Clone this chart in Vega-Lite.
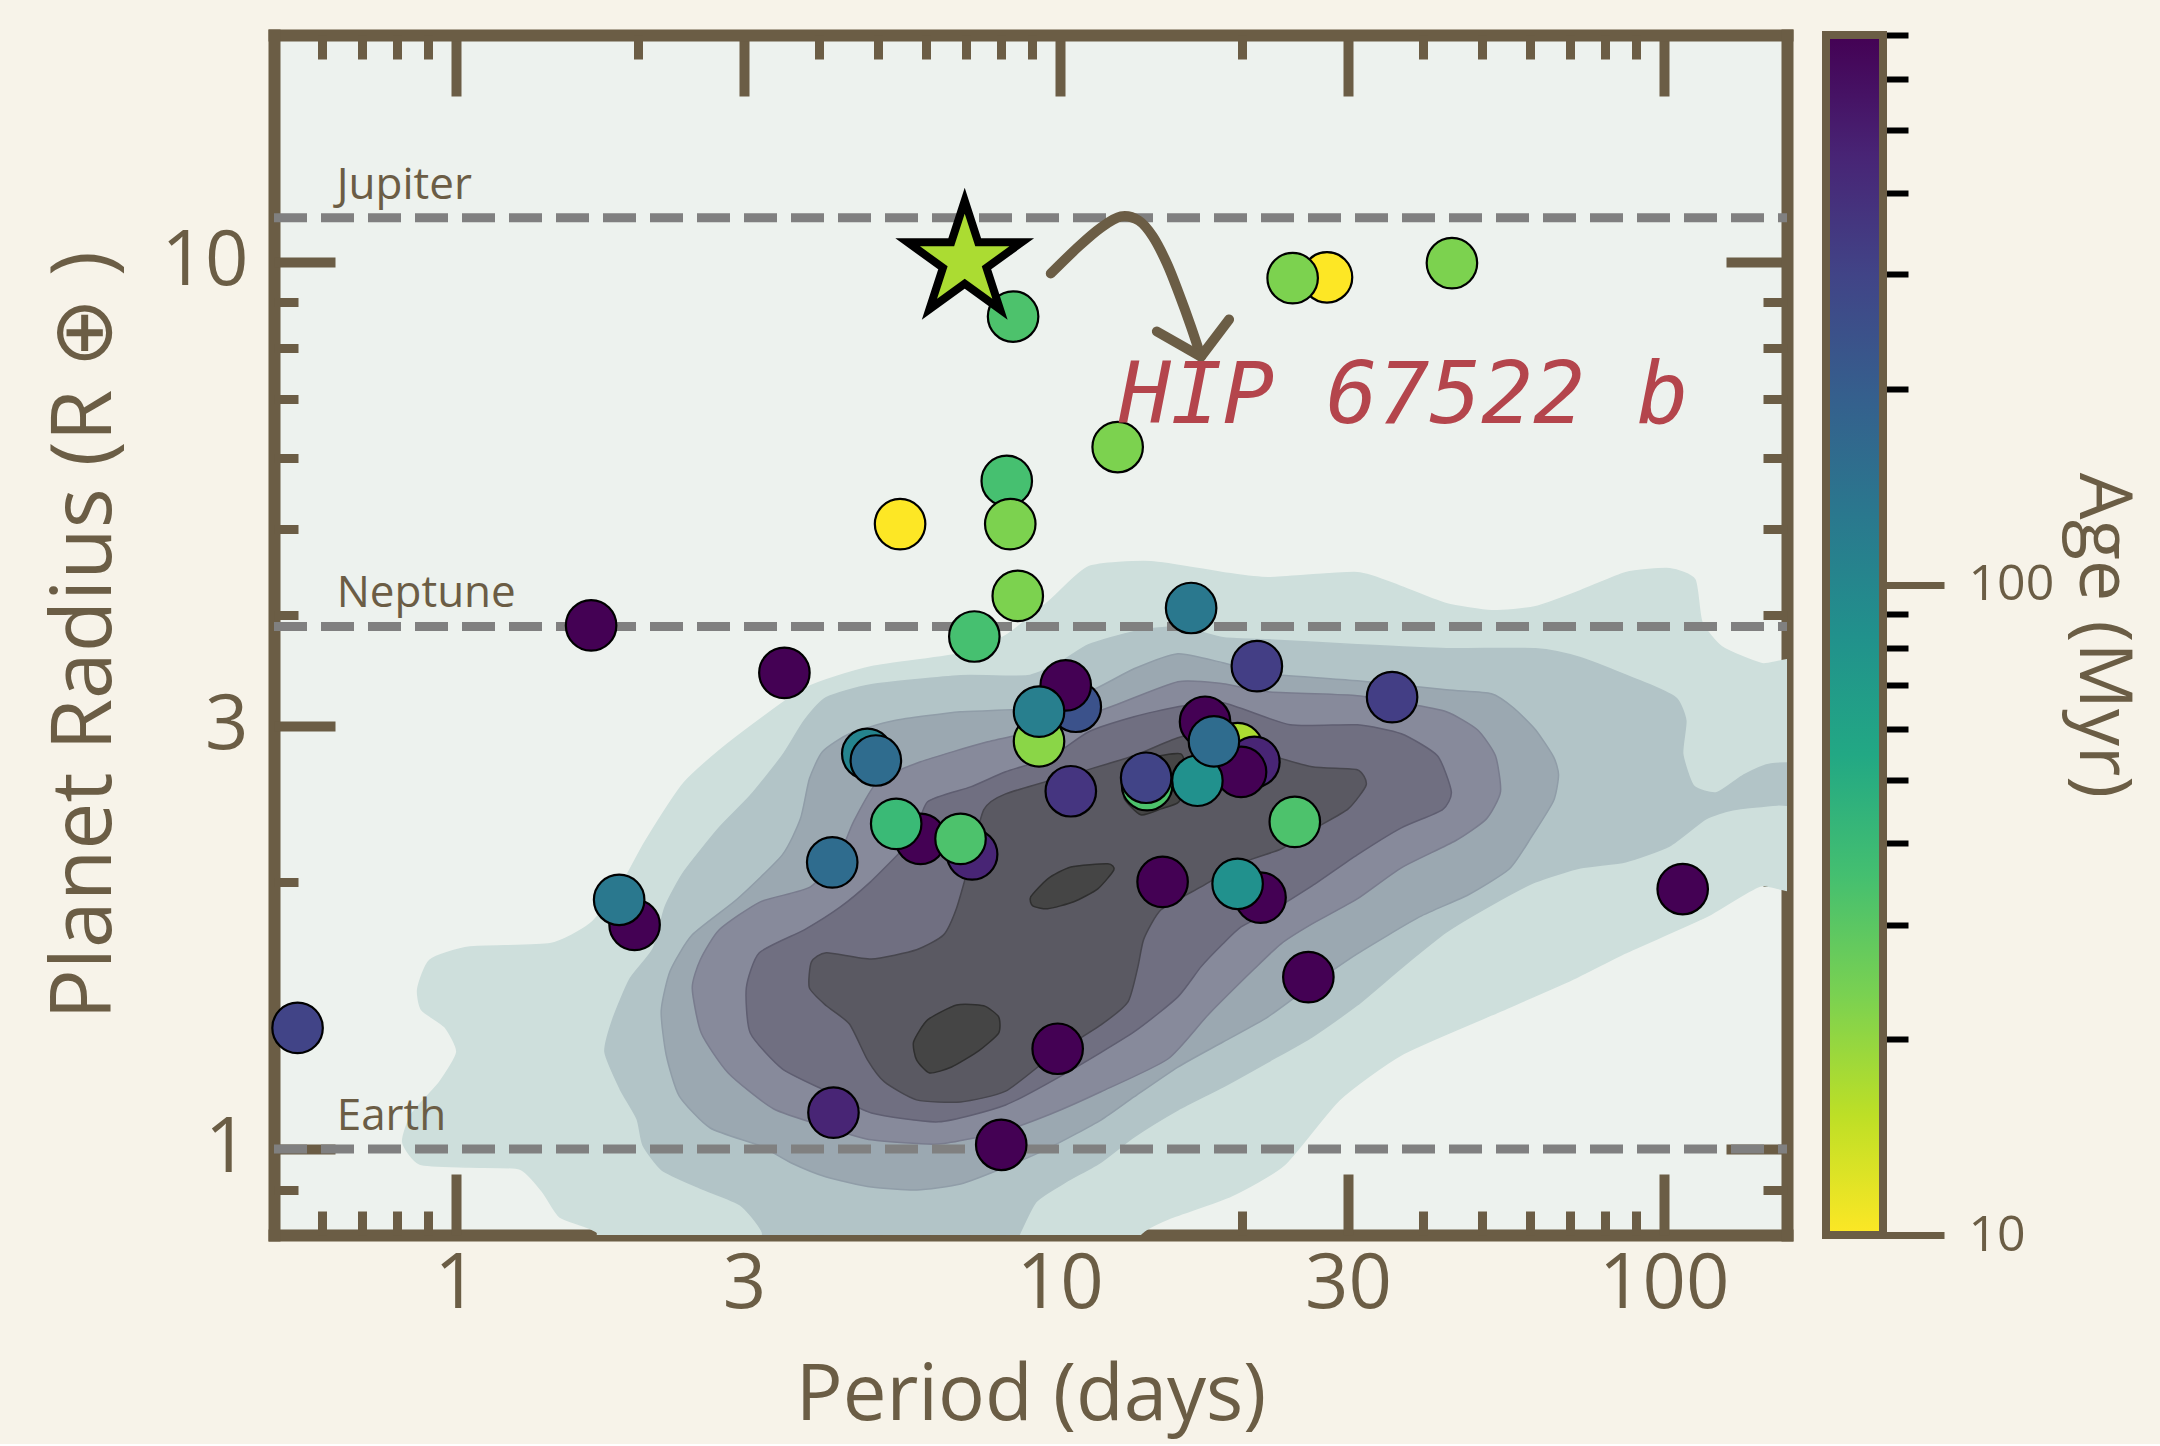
{
  "$schema": "https://vega.github.io/schema/vega-lite/v6.json",
  "background": "#f7f3e9",
  "padding": {"left": 43, "top": 30, "right": 21, "bottom": 9},
  "config": {
    "view": {"stroke": null},
    "axis": {"zindex": 1, "grid": false, "labelFont": "Open Sans", "titleFont": "Open Sans", "labelColor": "#6b5d45", "titleColor": "#6b5d45", "tickColor": "#6b5d45", "domainColor": "#6b5d45", "titleFontWeight": "normal", "labelOverlap": false, "labelFlush": false},
    "text": {"font": "Open Sans"}
  },
  "datasets": {
    "contours": [
      {"id":"c1","level":1,"i":1,"P":0.865,"R":1.515},{"id":"c1","level":1,"i":2,"P":0.906,"R":1.633},{"id":"c1","level":1,"i":3,"P":1.055,"R":1.689},{"id":"c1","level":1,"i":4,"P":1.432,"R":1.703},{"id":"c1","level":1,"i":5,"P":1.668,"R":1.793},{"id":"c1","level":1,"i":6,"P":1.871,"R":1.974},{"id":"c1","level":1,"i":7,"P":2.058,"R":2.219},{"id":"c1","level":1,"i":8,"P":2.388,"R":2.586},{"id":"c1","level":1,"i":9,"P":2.847,"R":2.876},{"id":"c1","level":1,"i":10,"P":3.776,"R":3.301},{"id":"c1","level":1,"i":11,"P":4.877,"R":3.494},{"id":"c1","level":1,"i":12,"P":6.852,"R":3.615},{"id":"c1","level":1,"i":13,"P":8.136,"R":3.788},{"id":"c1","level":1,"i":14,"P":9.663,"R":4.158},{"id":"c1","level":1,"i":15,"P":11.17,"R":4.53},{"id":"c1","level":1,"i":16,"P":14.16,"R":4.59},{"id":"c1","level":1,"i":17,"P":18.63,"R":4.461},{"id":"c1","level":1,"i":18,"P":22.13,"R":4.403},{"id":"c1","level":1,"i":19,"P":31.08,"R":4.461},{"id":"c1","level":1,"i":20,"P":36.77,"R":4.302},{"id":"c1","level":1,"i":21,"P":43.66,"R":4.115},{"id":"c1","level":1,"i":22,"P":51.86,"R":4.041},{"id":"c1","level":1,"i":23,"P":61.33,"R":4.083},{"id":"c1","level":1,"i":24,"P":72.84,"R":4.257},{"id":"c1","level":1,"i":25,"P":86.5,"R":4.461},{"id":"c1","level":1,"i":26,"P":102.3,"R":4.507},{"id":"c1","level":1,"i":27,"P":112.6,"R":4.38},{"id":"c1","level":1,"i":28,"P":115.6,"R":3.927},{"id":"c1","level":1,"i":29,"P":124.8,"R":3.68},{"id":"c1","level":1,"i":30,"P":145.4,"R":3.522},{"id":"c1","level":1,"i":31,"P":176.0,"R":3.467},{"id":"c1","level":1,"i":32,"P":176.0,"R":2.0},{"id":"c1","level":1,"i":33,"P":144.3,"R":1.979},{"id":"c1","level":1,"i":34,"P":117.4,"R":1.826},{"id":"c1","level":1,"i":35,"P":86.5,"R":1.664},{"id":"c1","level":1,"i":36,"P":70.37,"R":1.551},{"id":"c1","level":1,"i":37,"P":51.86,"R":1.416},{"id":"c1","level":1,"i":38,"P":36.77,"R":1.277},{"id":"c1","level":1,"i":39,"P":29.02,"R":1.136},{"id":"c1","level":1,"i":40,"P":23.52,"R":0.9594},{"id":"c1","level":1,"i":41,"P":19.21,"R":0.885},{"id":"c1","level":1,"i":42,"P":15.1,"R":0.834},{"id":"c1","level":1,"i":43,"P":13.62,"R":0.802},{"id":"c1","level":1,"i":44,"P":12.62,"R":0.7266},{"id":"c1","level":1,"i":45,"P":1.871,"R":0.7266},{"id":"c1","level":1,"i":46,"P":1.713,"R":0.806},{"id":"c1","level":1,"i":47,"P":1.488,"R":0.838},{"id":"c1","level":1,"i":48,"P":1.394,"R":0.894},{"id":"c1","level":1,"i":49,"P":1.277,"R":0.9495},{"id":"c1","level":1,"i":50,"P":1.055,"R":0.9544},{"id":"c1","level":1,"i":51,"P":0.8716,"R":0.9618},{"id":"c1","level":1,"i":52,"P":0.8169,"R":1.018},{"id":"c1","level":1,"i":53,"P":0.8454,"R":1.095},{"id":"c1","level":1,"i":54,"P":0.9408,"R":1.19},{"id":"c1","level":1,"i":55,"P":1.004,"R":1.286},{"id":"c1","level":1,"i":56,"P":0.9589,"R":1.373},{"id":"c1","level":1,"i":57,"P":0.878,"R":1.435},
      {"id":"c2","level":2,"i":1,"P":1.766,"R":1.287},{"id":"c2","level":2,"i":2,"P":1.821,"R":1.402},{"id":"c2","level":2,"i":3,"P":1.943,"R":1.555},{"id":"c2","level":2,"i":4,"P":2.122,"R":1.681},{"id":"c2","level":2,"i":5,"P":2.221,"R":1.874},{"id":"c2","level":2,"i":6,"P":2.388,"R":2.053},{"id":"c2","level":2,"i":7,"P":2.73,"R":2.301},{"id":"c2","level":2,"i":8,"P":3.073,"R":2.5},{"id":"c2","level":2,"i":9,"P":3.472,"R":2.774},{"id":"c2","level":2,"i":10,"P":3.776,"R":3.038},{"id":"c2","level":2,"i":11,"P":4.107,"R":3.225},{"id":"c2","level":2,"i":12,"P":4.877,"R":3.335},{"id":"c2","level":2,"i":13,"P":6.852,"R":3.414},{"id":"c2","level":2,"i":14,"P":8.849,"R":3.414},{"id":"c2","level":2,"i":15,"P":10.04,"R":3.54},{"id":"c2","level":2,"i":16,"P":11.17,"R":3.7},{"id":"c2","level":2,"i":17,"P":13.27,"R":3.827},{"id":"c2","level":2,"i":18,"P":15.69,"R":3.877},{"id":"c2","level":2,"i":19,"P":18.63,"R":3.768},{"id":"c2","level":2,"i":20,"P":22.13,"R":3.748},{"id":"c2","level":2,"i":21,"P":31.08,"R":3.7},{"id":"c2","level":2,"i":22,"P":43.66,"R":3.662},{"id":"c2","level":2,"i":23,"P":61.33,"R":3.662},{"id":"c2","level":2,"i":24,"P":72.84,"R":3.577},{"id":"c2","level":2,"i":25,"P":94.8,"R":3.335},{"id":"c2","level":2,"i":26,"P":105.1,"R":3.216},{"id":"c2","level":2,"i":27,"P":108.8,"R":3.038},{"id":"c2","level":2,"i":28,"P":107.5,"R":2.788},{"id":"c2","level":2,"i":29,"P":112.1,"R":2.565},{"id":"c2","level":2,"i":30,"P":122.4,"R":2.52},{"id":"c2","level":2,"i":31,"P":135.8,"R":2.64},{"id":"c2","level":2,"i":32,"P":150.5,"R":2.716},{"id":"c2","level":2,"i":33,"P":176.0,"R":2.703},{"id":"c2","level":2,"i":34,"P":176.0,"R":2.448},{"id":"c2","level":2,"i":35,"P":154.0,"R":2.442},{"id":"c2","level":2,"i":36,"P":130.2,"R":2.411},{"id":"c2","level":2,"i":37,"P":117.4,"R":2.355},{"id":"c2","level":2,"i":38,"P":102.3,"R":2.196},{"id":"c2","level":2,"i":39,"P":86.5,"R":2.107},{"id":"c2","level":2,"i":40,"P":72.84,"R":2.074},{"id":"c2","level":2,"i":41,"P":61.33,"R":2.0},{"id":"c2","level":2,"i":42,"P":51.86,"R":1.884},{"id":"c2","level":2,"i":43,"P":43.66,"R":1.756},{"id":"c2","level":2,"i":44,"P":36.77,"R":1.6},{"id":"c2","level":2,"i":45,"P":31.08,"R":1.453},{"id":"c2","level":2,"i":46,"P":26.17,"R":1.338},{"id":"c2","level":2,"i":47,"P":22.13,"R":1.254},{"id":"c2","level":2,"i":48,"P":18.63,"R":1.175},{"id":"c2","level":2,"i":49,"P":15.69,"R":1.107},{"id":"c2","level":2,"i":50,"P":13.27,"R":1.032},{"id":"c2","level":2,"i":51,"P":11.7,"R":0.9668},{"id":"c2","level":2,"i":52,"P":10.23,"R":0.918},{"id":"c2","level":2,"i":53,"P":9.125,"R":0.8716},{"id":"c2","level":2,"i":54,"P":8.453,"R":0.7855},{"id":"c2","level":2,"i":55,"P":7.98,"R":0.7266},{"id":"c2","level":2,"i":56,"P":3.317,"R":0.7266},{"id":"c2","level":2,"i":57,"P":3.218,"R":0.806},{"id":"c2","level":2,"i":58,"P":2.958,"R":0.865},{"id":"c2","level":2,"i":59,"P":2.539,"R":0.9036},{"id":"c2","level":2,"i":60,"P":2.196,"R":0.9469},{"id":"c2","level":2,"i":61,"P":2.042,"R":1.01},{"id":"c2","level":2,"i":62,"P":1.996,"R":1.081},{"id":"c2","level":2,"i":63,"P":1.871,"R":1.169},
      {"id":"c3","level":3,"i":1,"P":2.188,"R":1.431},{"id":"c3","level":3,"i":2,"P":2.264,"R":1.587},{"id":"c3","level":3,"i":3,"P":2.463,"R":1.743},{"id":"c3","level":3,"i":4,"P":2.924,"R":1.913},{"id":"c3","level":3,"i":5,"P":3.472,"R":2.145},{"id":"c3","level":3,"i":6,"P":3.72,"R":2.355},{"id":"c3","level":3,"i":7,"P":3.85,"R":2.613},{"id":"c3","level":3,"i":8,"P":4.046,"R":2.803},{"id":"c3","level":3,"i":9,"P":4.485,"R":2.937},{"id":"c3","level":3,"i":10,"P":5.305,"R":3.038},{"id":"c3","level":3,"i":11,"P":6.852,"R":3.11},{"id":"c3","level":3,"i":12,"P":8.849,"R":3.134},{"id":"c3","level":3,"i":13,"P":11.17,"R":3.275},{"id":"c3","level":3,"i":14,"P":13.27,"R":3.476},{"id":"c3","level":3,"i":15,"P":15.69,"R":3.615},{"id":"c3","level":3,"i":16,"P":18.63,"R":3.531},{"id":"c3","level":3,"i":17,"P":22.13,"R":3.432},{"id":"c3","level":3,"i":18,"P":31.08,"R":3.37},{"id":"c3","level":3,"i":19,"P":43.66,"R":3.292},{"id":"c3","level":3,"i":20,"P":51.86,"R":3.258},{"id":"c3","level":3,"i":21,"P":56.38,"R":3.142},{"id":"c3","level":3,"i":22,"P":61.33,"R":2.968},{"id":"c3","level":3,"i":23,"P":65.71,"R":2.766},{"id":"c3","level":3,"i":24,"P":66.97,"R":2.64},{"id":"c3","level":3,"i":25,"P":65.71,"R":2.468},{"id":"c3","level":3,"i":26,"P":60.4,"R":2.247},{"id":"c3","level":3,"i":27,"P":55.55,"R":2.069},{"id":"c3","level":3,"i":28,"P":47.5,"R":1.934},{"id":"c3","level":3,"i":29,"P":39.4,"R":1.826},{"id":"c3","level":3,"i":30,"P":31.08,"R":1.659},{"id":"c3","level":3,"i":31,"P":26.17,"R":1.531},{"id":"c3","level":3,"i":32,"P":22.13,"R":1.409},{"id":"c3","level":3,"i":33,"P":18.63,"R":1.32},{"id":"c3","level":3,"i":34,"P":15.69,"R":1.237},{"id":"c3","level":3,"i":35,"P":13.27,"R":1.1445},{"id":"c3","level":3,"i":36,"P":11.7,"R":1.078},{"id":"c3","level":3,"i":37,"P":9.663,"R":1.005},{"id":"c3","level":3,"i":38,"P":8.136,"R":0.9544},{"id":"c3","level":3,"i":39,"P":6.852,"R":0.9131},{"id":"c3","level":3,"i":40,"P":5.793,"R":0.899},{"id":"c3","level":3,"i":41,"P":4.877,"R":0.9061},{"id":"c3","level":3,"i":42,"P":4.107,"R":0.9299},{"id":"c3","level":3,"i":43,"P":3.594,"R":0.9643},{"id":"c3","level":3,"i":44,"P":3.193,"R":1.0078},{"id":"c3","level":3,"i":45,"P":2.638,"R":1.056},{"id":"c3","level":3,"i":46,"P":2.343,"R":1.148},{"id":"c3","level":3,"i":47,"P":2.23,"R":1.277},
      {"id":"c4","level":4,"i":1,"P":2.463,"R":1.519},{"id":"c4","level":4,"i":2,"P":2.539,"R":1.633},{"id":"c4","level":4,"i":3,"P":2.73,"R":1.766},{"id":"c4","level":4,"i":4,"P":3.193,"R":1.899},{"id":"c4","level":4,"i":5,"P":3.865,"R":1.974},{"id":"c4","level":4,"i":6,"P":4.333,"R":2.161},{"id":"c4","level":4,"i":7,"P":4.554,"R":2.337},{"id":"c4","level":4,"i":8,"P":4.991,"R":2.593},{"id":"c4","level":4,"i":9,"P":5.882,"R":2.731},{"id":"c4","level":4,"i":10,"P":7.596,"R":2.876},{"id":"c4","level":4,"i":11,"P":9.772,"R":2.991},{"id":"c4","level":4,"i":12,"P":12.15,"R":3.15},{"id":"c4","level":4,"i":13,"P":15.69,"R":3.362},{"id":"c4","level":4,"i":14,"P":18.63,"R":3.344},{"id":"c4","level":4,"i":15,"P":22.13,"R":3.275},{"id":"c4","level":4,"i":16,"P":31.08,"R":3.242},{"id":"c4","level":4,"i":17,"P":36.77,"R":3.183},{"id":"c4","level":4,"i":18,"P":43.66,"R":3.11},{"id":"c4","level":4,"i":19,"P":49.15,"R":2.968},{"id":"c4","level":4,"i":20,"P":52.65,"R":2.774},{"id":"c4","level":4,"i":21,"P":53.67,"R":2.526},{"id":"c4","level":4,"i":22,"P":50.87,"R":2.355},{"id":"c4","level":4,"i":23,"P":45.2,"R":2.225},{"id":"c4","level":4,"i":24,"P":36.77,"R":2.074},{"id":"c4","level":4,"i":25,"P":31.08,"R":1.913},{"id":"c4","level":4,"i":26,"P":26.17,"R":1.793},{"id":"c4","level":4,"i":27,"P":23.25,"R":1.703},{"id":"c4","level":4,"i":28,"P":20.98,"R":1.595},{"id":"c4","level":4,"i":29,"P":17.6,"R":1.416},{"id":"c4","level":4,"i":30,"P":15.1,"R":1.263},{"id":"c4","level":4,"i":31,"P":11.7,"R":1.16},{"id":"c4","level":4,"i":32,"P":9.663,"R":1.095},{"id":"c4","level":4,"i":33,"P":7.98,"R":1.045},{"id":"c4","level":4,"i":34,"P":6.3,"R":1.013},{"id":"c4","level":4,"i":35,"P":4.877,"R":1.024},{"id":"c4","level":4,"i":36,"P":4.107,"R":1.059},{"id":"c4","level":4,"i":37,"P":3.356,"R":1.11},{"id":"c4","level":4,"i":38,"P":2.825,"R":1.218},{"id":"c4","level":4,"i":39,"P":2.549,"R":1.351},
      {"id":"c5","level":5,"i":1,"P":3.027,"R":1.519},{"id":"c5","level":5,"i":2,"P":3.181,"R":1.664},{"id":"c5","level":5,"i":3,"P":3.776,"R":1.766},{"id":"c5","level":5,"i":4,"P":4.333,"R":1.874},{"id":"c5","level":5,"i":5,"P":4.86,"R":2.0},{"id":"c5","level":5,"i":6,"P":5.448,"R":2.161},{"id":"c5","level":5,"i":7,"P":5.727,"R":2.236},{"id":"c5","level":5,"i":8,"P":6.041,"R":2.462},{"id":"c5","level":5,"i":9,"P":7.12,"R":2.559},{"id":"c5","level":5,"i":10,"P":8.136,"R":2.661},{"id":"c5","level":5,"i":11,"P":9.663,"R":2.766},{"id":"c5","level":5,"i":12,"P":11.17,"R":2.952},{"id":"c5","level":5,"i":13,"P":13.27,"R":3.069},{"id":"c5","level":5,"i":14,"P":15.69,"R":3.15},{"id":"c5","level":5,"i":15,"P":18.63,"R":3.183},{"id":"c5","level":5,"i":16,"P":24.06,"R":3.006},{"id":"c5","level":5,"i":17,"P":31.08,"R":3.006},{"id":"c5","level":5,"i":18,"P":36.77,"R":2.937},{"id":"c5","level":5,"i":19,"P":42.2,"R":2.774},{"id":"c5","level":5,"i":20,"P":44.5,"R":2.526},{"id":"c5","level":5,"i":21,"P":43.0,"R":2.411},{"id":"c5","level":5,"i":22,"P":36.77,"R":2.301},{"id":"c5","level":5,"i":23,"P":31.08,"R":2.145},{"id":"c5","level":5,"i":24,"P":26.17,"R":1.979},{"id":"c5","level":5,"i":25,"P":22.13,"R":1.845},{"id":"c5","level":5,"i":26,"P":19.96,"R":1.779},{"id":"c5","level":5,"i":27,"P":18.63,"R":1.703},{"id":"c5","level":5,"i":28,"P":17.13,"R":1.604},{"id":"c5","level":5,"i":29,"P":15.69,"R":1.484},{"id":"c5","level":5,"i":30,"P":13.27,"R":1.355},{"id":"c5","level":5,"i":31,"P":10.31,"R":1.221},{"id":"c5","level":5,"i":32,"P":8.136,"R":1.121},{"id":"c5","level":5,"i":33,"P":6.3,"R":1.073},{"id":"c5","level":5,"i":34,"P":4.877,"R":1.098},{"id":"c5","level":5,"i":35,"P":4.107,"R":1.162},{"id":"c5","level":5,"i":36,"P":3.472,"R":1.231},{"id":"c5","level":5,"i":37,"P":3.073,"R":1.351},
      {"id":"c6","level":6,"i":1,"P":3.85,"R":1.519},{"id":"c6","level":6,"i":2,"P":3.88,"R":1.625},{"id":"c6","level":6,"i":3,"P":4.107,"R":1.664},{"id":"c6","level":6,"i":4,"P":4.877,"R":1.637},{"id":"c6","level":6,"i":5,"P":5.793,"R":1.677},{"id":"c6","level":6,"i":6,"P":6.421,"R":1.743},{"id":"c6","level":6,"i":7,"P":6.749,"R":1.869},{"id":"c6","level":6,"i":8,"P":7.09,"R":2.101},{"id":"c6","level":6,"i":9,"P":7.482,"R":2.411},{"id":"c6","level":6,"i":10,"P":8.136,"R":2.513},{"id":"c6","level":6,"i":11,"P":10.83,"R":2.661},{"id":"c6","level":6,"i":12,"P":13.27,"R":2.774},{"id":"c6","level":6,"i":13,"P":15.69,"R":2.907},{"id":"c6","level":6,"i":14,"P":18.63,"R":2.975},{"id":"c6","level":6,"i":15,"P":21.54,"R":2.803},{"id":"c6","level":6,"i":16,"P":26.17,"R":2.696},{"id":"c6","level":6,"i":17,"P":31.08,"R":2.675},{"id":"c6","level":6,"i":18,"P":32.17,"R":2.573},{"id":"c6","level":6,"i":19,"P":30.03,"R":2.417},{"id":"c6","level":6,"i":20,"P":26.37,"R":2.295},{"id":"c6","level":6,"i":21,"P":23.25,"R":2.178},{"id":"c6","level":6,"i":22,"P":20.27,"R":2.107},{"id":"c6","level":6,"i":23,"P":17.13,"R":1.974},{"id":"c6","level":6,"i":24,"P":14.71,"R":1.86},{"id":"c6","level":6,"i":25,"P":13.78,"R":1.725},{"id":"c6","level":6,"i":26,"P":13.47,"R":1.604},{"id":"c6","level":6,"i":27,"P":12.97,"R":1.465},{"id":"c6","level":6,"i":28,"P":11.7,"R":1.38},{"id":"c6","level":6,"i":29,"P":9.663,"R":1.27},{"id":"c6","level":6,"i":30,"P":8.136,"R":1.162},{"id":"c6","level":6,"i":31,"P":6.852,"R":1.13},{"id":"c6","level":6,"i":32,"P":5.793,"R":1.136},{"id":"c6","level":6,"i":33,"P":5.126,"R":1.19},{"id":"c6","level":6,"i":34,"P":4.805,"R":1.26},{"id":"c6","level":6,"i":35,"P":4.485,"R":1.383},{"id":"c6","level":6,"i":36,"P":4.107,"R":1.45},
      {"id":"c7a","level":7,"i":1,"P":5.793,"R":1.26},{"id":"c7a","level":7,"i":2,"P":5.727,"R":1.32},{"id":"c7a","level":7,"i":3,"P":6.041,"R":1.398},{"id":"c7a","level":7,"i":4,"P":6.749,"R":1.453},{"id":"c7a","level":7,"i":5,"P":7.482,"R":1.45},{"id":"c7a","level":7,"i":6,"P":7.922,"R":1.409},{"id":"c7a","level":7,"i":7,"P":7.922,"R":1.351},{"id":"c7a","level":7,"i":8,"P":7.34,"R":1.29},{"id":"c7a","level":7,"i":9,"P":6.62,"R":1.237},{"id":"c7a","level":7,"i":10,"P":6.087,"R":1.218},
      {"id":"c7b","level":7,"i":1,"P":8.95,"R":1.923},{"id":"c7b","level":7,"i":2,"P":9.552,"R":2.016},{"id":"c7b","level":7,"i":3,"P":10.43,"R":2.079},{"id":"c7b","level":7,"i":4,"P":12.01,"R":2.096},{"id":"c7b","level":7,"i":5,"P":12.29,"R":2.063},{"id":"c7b","level":7,"i":6,"P":11.56,"R":1.964},{"id":"c7b","level":7,"i":7,"P":10.55,"R":1.899},{"id":"c7b","level":7,"i":8,"P":9.552,"R":1.865},{"id":"c7b","level":7,"i":9,"P":9.022,"R":1.879},
      {"id":"c7c","level":7,"i":1,"P":12.76,"R":2.494},{"id":"c7c","level":7,"i":2,"P":13.27,"R":2.661},{"id":"c7c","level":7,"i":3,"P":13.99,"R":2.753},{"id":"c7c","level":7,"i":4,"P":15.87,"R":2.788},{"id":"c7c","level":7,"i":5,"P":16.18,"R":2.627},{"id":"c7c","level":7,"i":6,"P":15.75,"R":2.462},{"id":"c7c","level":7,"i":7,"P":14.71,"R":2.417},{"id":"c7c","level":7,"i":8,"P":13.62,"R":2.38}
    ],
    "planets": [
      {"P":0.547,"R":1.369,"age":300},{"P":1.675,"R":3.89,"age":700},{"P":3.5,"R":3.44,"age":700},{"P":1.977,"R":1.789,"age":700},{"P":1.864,"R":1.909,"age":128},{"P":4.22,"R":1.099,"age":460},{"P":8.0,"R":1.011,"age":700},{"P":4.2,"R":2.104,"age":158},{"P":4.8,"R":2.788,"age":104},{"P":4.96,"R":2.74,"age":158},{"P":5.88,"R":2.236,"age":700},{"P":5.36,"R":2.325,"age":39},{"P":7.16,"R":2.148,"age":460},{"P":6.85,"R":2.236,"age":33},{"P":7.22,"R":3.78,"age":35},{"P":8.52,"R":4.2,"age":23},{"P":8.17,"R":5.66,"age":35},{"P":8.28,"R":5.06,"age":23},{"P":5.44,"R":5.06,"age":10},{"P":8.37,"R":8.67,"age":33},{"P":12.47,"R":6.18,"age":23},{"P":27.7,"R":9.6,"age":10},{"P":24.3,"R":9.58,"age":23},{"P":44.6,"R":9.96,"age":23},{"P":16.5,"R":4.07,"age":128},{"P":21.2,"R":3.5,"age":326},{"P":35.5,"R":3.23,"age":326},{"P":107.5,"R":1.963,"age":700},{"P":25.8,"R":1.562,"age":700},{"P":24.5,"R":2.337,"age":33},{"P":14.8,"R":2.0,"age":700},{"P":21.5,"R":1.92,"age":700},{"P":19.7,"R":1.99,"age":84},{"P":9.92,"R":1.297,"age":700},{"P":10.63,"R":3.15,"age":242},{"P":10.23,"R":3.33,"age":700},{"P":9.24,"R":2.88,"age":21},{"P":9.24,"R":3.11,"age":115},{"P":10.43,"R":2.53,"age":370},{"P":19.7,"R":2.83,"age":17},{"P":21.0,"R":2.73,"age":460},{"P":19.96,"R":2.66,"age":700},{"P":17.4,"R":3.03,"age":700},{"P":16.9,"R":2.6,"age":84},{"P":18.0,"R":2.88,"age":158},{"P":13.95,"R":2.57,"age":33},{"P":13.9,"R":2.62,"age":300}
    ],
    "star": [{"name":"HIP 67522 b","P":6.96,"R":10.02,"age":17}],
    "refs": [{"name":"Jupiter","R":11.2},{"name":"Neptune","R":3.88},{"name":"Earth","R":1.0}],
    "arrowCurve": [
      {"i":1,"P":9.663,"R":9.694},{"i":2,"P":10.75,"R":10.4},{"i":3,"P":11.7,"R":10.92},{"i":4,"P":12.62,"R":11.24},{"i":5,"P":13.52,"R":11.12},{"i":6,"P":14.26,"R":10.67},{"i":7,"P":15.05,"R":9.947},{"i":8,"P":15.75,"R":9.204},{"i":9,"P":16.49,"R":8.448},{"i":10,"P":17.13,"R":7.814}
    ],
    "arrowHead": [{"i":1,"P":14.48,"R":8.34},{"i":2,"P":17.13,"R":7.814},{"i":3,"P":19.07,"R":8.603}],
    "callout": [{"label":"HIP 67522 b","P":12.53,"R":6.57}],
    "colorbar": [{"lo":10,"hi":700,"a":0,"b":1}]
  },
  "spacing": 39,
  "bounds": "flush",
  "hconcat": [
    {
      "width": 1513,
      "height": 1200,
      "view": {"fill": "#edf2ee", "stroke": null},
      "resolve": {"axis": {"x": "independent", "y": "independent"}},
      "layer": [
        {
          "data": {"name": "contours"},
          "mark": {"type": "line", "interpolate": "cardinal-closed", "tension": 0.4, "strokeWidth": 1.5, "clip": true},
          "encoding": {
            "x": {"field": "P", "type": "quantitative", "scale": {"type": "log", "domain": [0.5, 160], "nice": false},
                  "axis": {"orient": "bottom", "values": [1, 3, 10, 30, 100], "format": "d", "ticks": false, "tickSize": 0, "labelFontSize": 76, "labelPadding": 72, "labelBaseline": "alphabetic", "domain": true, "domainWidth": 12, "domainCap": "square", "title": "Period (days)", "titleFontSize": 78, "titlePadding": 35}},
            "y": {"field": "R", "type": "quantitative", "scale": {"type": "log", "domain": [0.8, 18], "nice": false},
                  "axis": {"orient": "left", "values": [1, 3, 10], "format": "d", "ticks": false, "tickSize": 0, "labelFontSize": 76, "labelPadding": 26, "labelBaseline": "middle", "domain": true, "domainWidth": 12, "domainCap": "square", "title": "Planet Radius (R ⊕ )", "titleFontSize": 84, "titlePadding": 33}},
            "detail": {"field": "id"},
            "order": {"field": "i", "type": "quantitative"},
            "fill": {"field": "level", "type": "ordinal", "scale": {"domain": [1, 2, 3, 4, 5, 6, 7], "range": ["#cedfdc", "#b2c4c7", "#9ba8b1", "#878a9b", "#706f81", "#5a5962", "#454545"]}, "legend": null},
            "stroke": {"field": "level", "type": "ordinal", "scale": {"domain": [1, 2, 3, 4, 5, 6, 7], "range": ["#cedfdc", "#b2c4c7", "#909da8", "#797c8e", "#5f5e71", "#47464e", "#2f2f2f"]}, "legend": null}
          }
        },
        {
          "data": {"name": "refs"},
          "mark": {"type": "rule", "strokeDash": [33, 14], "strokeWidth": 9, "color": "#808080", "clip": true},
          "encoding": {
            "x": {"datum": 0.5, "type": "quantitative", "scale": {"type": "log", "domain": [0.5, 160], "nice": false}, "axis": null},
            "x2": {"datum": 160},
            "y": {"field": "R", "type": "quantitative", "scale": {"type": "log", "domain": [0.8, 18], "nice": false}, "axis": null}
          }
        },
        {
          "data": {"name": "refs"},
          "mark": {"type": "text", "align": "left", "baseline": "alphabetic", "dy": -19, "fontSize": 44, "color": "#6b5d45", "font": "Open Sans"},
          "encoding": {
            "x": {"datum": 0.635, "type": "quantitative", "scale": {"type": "log", "domain": [0.5, 160], "nice": false},
                  "axis": {"orient": "bottom", "values": [1, 3, 10, 30, 100], "labels": false, "domain": false, "tickSize": -61, "tickWidth": 10, "title": null}},
            "y": {"field": "R", "type": "quantitative", "scale": {"type": "log", "domain": [0.8, 18], "nice": false},
                  "axis": {"orient": "left", "values": [1, 3, 10], "labels": false, "domain": false, "tickSize": -61, "tickWidth": 10, "title": null}},
            "text": {"field": "name"}
          }
        },
        {
          "data": {"name": "planets"},
          "mark": {"type": "circle", "size": 2550, "stroke": "#000000", "strokeWidth": 2.2, "opacity": 1},
          "encoding": {
            "x": {"field": "P", "type": "quantitative", "scale": {"type": "log", "domain": [0.5, 160], "nice": false},
                  "axis": {"orient": "bottom", "values": [0.6, 0.7, 0.8, 0.9, 2, 4, 5, 6, 7, 8, 9, 20, 40, 50, 60, 70, 80, 90], "labels": false, "domain": false, "tickSize": -24, "tickWidth": 9, "title": null}},
            "y": {"field": "R", "type": "quantitative", "scale": {"type": "log", "domain": [0.8, 18], "nice": false},
                  "axis": {"orient": "left", "values": [0.9, 2, 4, 5, 6, 7, 8, 9], "labels": false, "domain": false, "tickSize": -24, "tickWidth": 9, "title": null}},
            "color": {"field": "age", "type": "quantitative", "scale": {"type": "log", "domain": [10, 700], "scheme": "viridis", "reverse": true}, "legend": null}
          }
        },
        {
          "data": {"name": "star"},
          "mark": {"type": "point", "filled": true, "shape": "M0,-1L0.2245,-0.309L0.951,-0.309L0.363,0.118L0.588,0.809L0,0.382L-0.588,0.809L-0.363,0.118L-0.951,-0.309L-0.2245,-0.309Z", "size": 14400, "stroke": "#000000", "strokeWidth": 8, "strokeJoin": "miter", "opacity": 1},
          "encoding": {
            "x": {"field": "P", "type": "quantitative", "scale": {"type": "log", "domain": [0.5, 160], "nice": false},
                  "axis": {"orient": "top", "values": [1, 3, 10, 30, 100], "labels": false, "domain": true, "domainWidth": 12, "domainCap": "square", "tickSize": -61, "tickWidth": 10, "title": null}},
            "y": {"field": "R", "type": "quantitative", "scale": {"type": "log", "domain": [0.8, 18], "nice": false},
                  "axis": {"orient": "right", "values": [1, 3, 10], "labels": false, "domain": true, "domainWidth": 12, "domainCap": "square", "tickSize": -61, "tickWidth": 10, "title": null}},
            "color": {"field": "age", "type": "quantitative", "scale": {"type": "log", "domain": [10, 700], "scheme": "viridis", "reverse": true}, "legend": null}
          }
        },
        {
          "data": {"name": "arrowCurve"},
          "mark": {"type": "line", "interpolate": "cardinal", "strokeWidth": 10, "strokeCap": "round", "color": "#6b5d45"},
          "encoding": {
            "x": {"field": "P", "type": "quantitative", "scale": {"type": "log", "domain": [0.5, 160], "nice": false},
                  "axis": {"orient": "top", "values": [0.6, 0.7, 0.8, 0.9, 2, 4, 5, 6, 7, 8, 9, 20, 40, 50, 60, 70, 80, 90], "labels": false, "domain": false, "tickSize": -24, "tickWidth": 9, "title": null}},
            "y": {"field": "R", "type": "quantitative", "scale": {"type": "log", "domain": [0.8, 18], "nice": false},
                  "axis": {"orient": "right", "values": [0.9, 2, 4, 5, 6, 7, 8, 9], "labels": false, "domain": false, "tickSize": -24, "tickWidth": 9, "title": null}},
            "order": {"field": "i", "type": "quantitative"}
          }
        },
        {
          "data": {"name": "arrowHead"},
          "mark": {"type": "line", "strokeWidth": 10, "strokeCap": "round", "strokeJoin": "round", "color": "#6b5d45"},
          "encoding": {
            "x": {"field": "P", "type": "quantitative", "scale": {"type": "log", "domain": [0.5, 160], "nice": false}, "axis": null},
            "y": {"field": "R", "type": "quantitative", "scale": {"type": "log", "domain": [0.8, 18], "nice": false}, "axis": null},
            "order": {"field": "i", "type": "quantitative"}
          }
        },
        {
          "data": {"name": "callout"},
          "mark": {"type": "text", "align": "left", "baseline": "alphabetic", "font": "DejaVu Sans Mono", "fontStyle": "italic", "fontSize": 86, "color": "#b4454c"},
          "encoding": {
            "x": {"field": "P", "type": "quantitative", "scale": {"type": "log", "domain": [0.5, 160], "nice": false}, "axis": null},
            "y": {"field": "R", "type": "quantitative", "scale": {"type": "log", "domain": [0.8, 18], "nice": false}, "axis": null},
            "text": {"field": "label"}
          }
        }
      ]
    },
    {
      "width": 57,
      "height": 1200,
      "view": {"stroke": null},
      "data": {"name": "colorbar"},
      "resolve": {"axis": {"y": "independent"}},
      "layer": [
        {
          "mark": {"type": "rect", "color": {"gradient": "linear", "x1": 0, "y1": 1, "x2": 0, "y2": 0, "stops": [{"offset": 0, "color": "#fde725"}, {"offset": 0.1, "color": "#bddf26"}, {"offset": 0.2, "color": "#7ad151"}, {"offset": 0.3, "color": "#44bf70"}, {"offset": 0.4, "color": "#22a884"}, {"offset": 0.5, "color": "#21918c"}, {"offset": 0.6, "color": "#2a788e"}, {"offset": 0.7, "color": "#355f8d"}, {"offset": 0.8, "color": "#414487"}, {"offset": 0.9, "color": "#482475"}, {"offset": 1, "color": "#440154"}]}},
          "encoding": {
            "x": {"field": "a", "type": "quantitative", "scale": {"domain": [0, 1], "nice": false, "zero": false}, "axis": null},
            "x2": {"field": "b"},
            "y": {"field": "lo", "type": "quantitative", "scale": {"type": "log", "domain": [10, 700], "nice": false},
                  "axis": {"orient": "right", "values": [10, 100], "format": "d", "tickSize": 61, "tickWidth": 7, "tickColor": "#6b5d45", "labelPadding": 24, "labelFontSize": 50, "labelBaseline": "middle", "domain": false, "title": "Age (Myr)", "titleFontSize": 74, "titlePadding": 10}},
            "y2": {"field": "hi"}
          }
        },
        {
          "mark": {"type": "rect", "fillOpacity": 0, "stroke": "#6b5d45", "strokeWidth": 8},
          "encoding": {
            "x": {"field": "a", "type": "quantitative", "scale": {"domain": [0, 1], "nice": false, "zero": false}, "axis": null},
            "x2": {"field": "b"},
            "y": {"field": "lo", "type": "quantitative", "scale": {"type": "log", "domain": [10, 700], "nice": false},
                  "axis": {"orient": "right", "values": [20, 30, 40, 50, 60, 70, 80, 90, 200, 300, 400, 500, 600, 700], "tickSize": 25, "tickWidth": 6, "tickColor": "#000000", "labels": false, "domain": false, "title": null}},
            "y2": {"field": "hi"}
          }
        }
      ]
    }
  ]
}
